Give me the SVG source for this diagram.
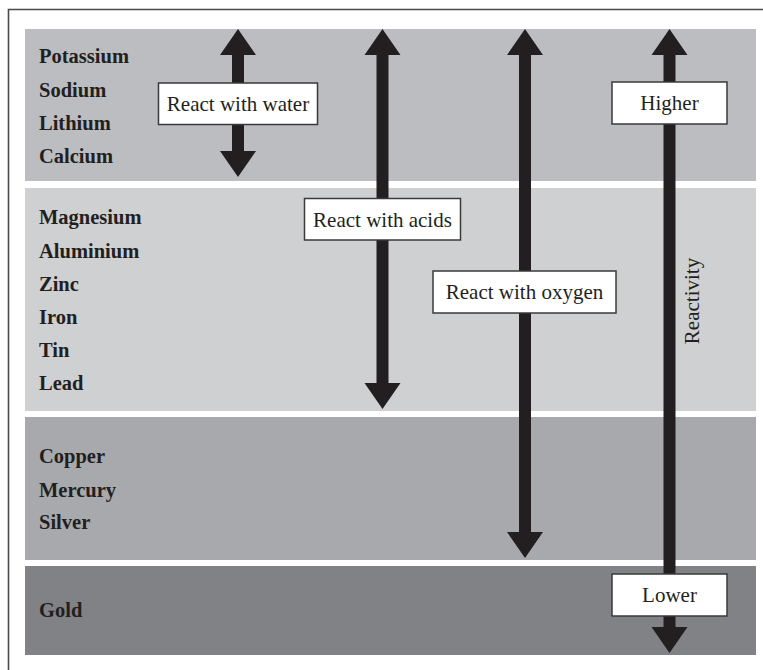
<svg xmlns="http://www.w3.org/2000/svg" width="763" height="670" viewBox="0 0 763 670">
<style>
.el{font-family:"Liberation Serif","Times New Roman",serif;font-weight:bold;font-size:20.5px;fill:#231f20}
.lb{font-family:"Liberation Serif","Times New Roman",serif;font-size:21px;fill:#231f20}
.box{fill:#ffffff;stroke:#3a3a3a;stroke-width:1.5}
.arr{fill:#231f20}
</style>
<rect x="0" y="0" width="763" height="670" fill="#ffffff"/>
<path d="M8.5 670 V9.5 H763" fill="none" stroke="#4a4a4a" stroke-width="1.6"/>
<g id="band-highest">
<rect x="25" y="29" width="731" height="152" fill="#bcbdc0"/>
<text class="el" x="39" y="63">Potassium</text>
<text class="el" x="39" y="96.5">Sodium</text>
<text class="el" x="39" y="130">Lithium</text>
<text class="el" x="39" y="163">Calcium</text>
</g>
<g id="band-high">
<rect x="25" y="188" width="731" height="223" fill="#cfd0d2"/>
<text class="el" x="39" y="224">Magnesium</text>
<text class="el" x="39" y="257.5">Aluminium</text>
<text class="el" x="39" y="291">Zinc</text>
<text class="el" x="39" y="324">Iron</text>
<text class="el" x="39" y="357">Tin</text>
<text class="el" x="39" y="390">Lead</text>
</g>
<g id="band-low">
<rect x="25" y="417" width="731" height="143" fill="#a8a9ac"/>
<text class="el" x="39" y="463">Copper</text>
<text class="el" x="39" y="496.5">Mercury</text>
<text class="el" x="39" y="529">Silver</text>
</g>
<g id="band-lowest">
<rect x="25" y="566" width="731" height="89" fill="#808285"/>
<text class="el" x="39" y="617">Gold</text>
</g>
<g id="connectors">
<polygon class="arr" points="238,29 256,55 244,55 244,151 256,151 238,177 220,151 232,151 232,55 220,55"/>
<polygon class="arr" points="382.5,29 400.5,55 388.5,55 388.5,383 400.5,383 382.5,409 364.5,383 376.5,383 376.5,55 364.5,55"/>
<polygon class="arr" points="525,29 543,55 531,55 531,532 543,532 525,558 507,532 519,532 519,55 507,55"/>
<polygon class="arr" points="669.5,29 687.5,55 675.5,55 675.5,627 687.5,627 669.5,653 651.5,627 663.5,627 663.5,55 651.5,55"/>
</g>
<g id="label-water">
<rect class="box" x="158.5" y="83" width="159" height="41.5"/>
<text class="lb" x="238" y="111" text-anchor="middle">React with water</text>
</g>
<g id="label-acids">
<rect class="box" x="304.5" y="198.5" width="156" height="41.5"/>
<text class="lb" x="382.5" y="226.5" text-anchor="middle">React with acids</text>
</g>
<g id="label-oxygen">
<rect class="box" x="433" y="271" width="183" height="42"/>
<text class="lb" x="524.5" y="299" text-anchor="middle">React with oxygen</text>
</g>
<g id="label-higher">
<rect class="box" x="612" y="82" width="115" height="42"/>
<text class="lb" x="669.5" y="110" text-anchor="middle">Higher</text>
</g>
<g id="label-lower">
<rect class="box" x="612" y="574" width="115" height="42"/>
<text class="lb" x="669.5" y="602" text-anchor="middle">Lower</text>
</g>
<g id="label-reactivity">
<text class="lb" transform="translate(699,301) rotate(-90)" text-anchor="middle">Reactivity</text>
</g>
</svg>
